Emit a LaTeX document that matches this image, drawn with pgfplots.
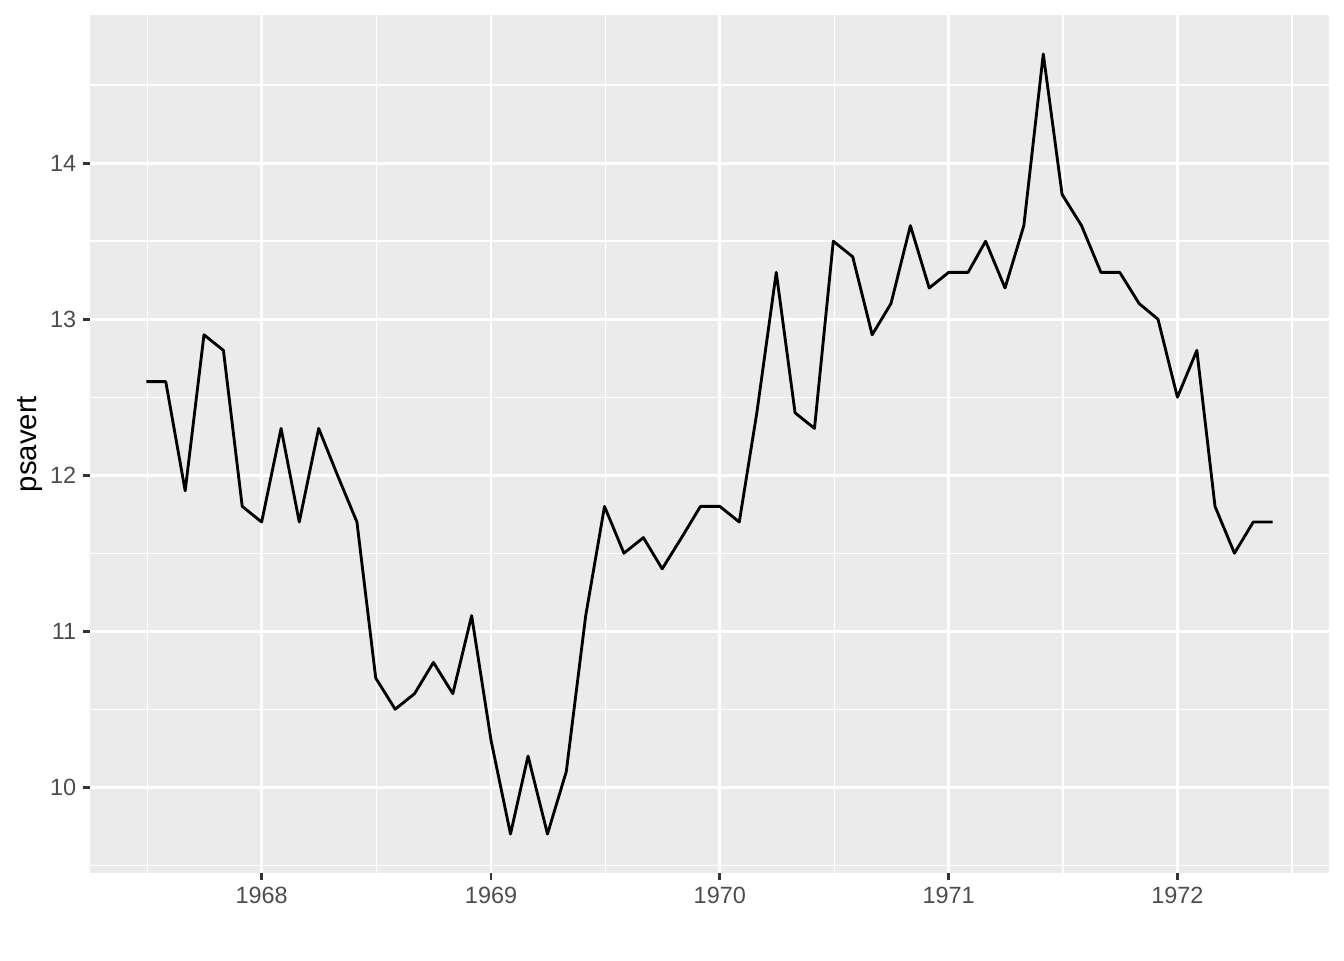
\documentclass[border=0pt]{standalone}
\usepackage{fontspec}
\setmainfont{Liberation Sans}
\usepackage{pgfplots}
\pgfplotsset{compat=1.18}
\definecolor{ggbg}{HTML}{EBEBEB}
\definecolor{ggtick}{HTML}{333333}
\definecolor{ggtext}{HTML}{4D4D4D}

% x = days since 1970-01-01 (first of each month)
\pgfplotstableread{
x psavert
-915 12.6
-884 12.6
-853 11.9
-823 12.9
-792 12.8
-762 11.8
-731 11.7
-700 12.3
-671 11.7
-640 12.3
-610 12.0
-579 11.7
-549 10.7
-518 10.5
-487 10.6
-457 10.8
-426 10.6
-396 11.1
-365 10.3
-334 9.7
-306 10.2
-275 9.7
-245 10.1
-214 11.1
-184 11.8
-153 11.5
-122 11.6
-92 11.4
-61 11.6
-31 11.8
0 11.8
31 11.7
59 12.4
90 13.3
120 12.4
151 12.3
181 13.5
212 13.4
243 12.9
273 13.1
304 13.6
334 13.2
365 13.3
396 13.3
424 13.5
455 13.2
485 13.6
516 14.7
546 13.8
577 13.6
608 13.3
638 13.3
669 13.1
699 13.0
730 12.5
761 12.8
790 11.8
821 11.5
851 11.7
882 11.7
}\psavert

\begin{document}
\begin{tikzpicture}
\begin{axis}[name=ax,
  scale only axis, width=464.6pt, height=321.75pt,
  xmin=-1004.85, xmax=971.85, ymin=9.45, ymax=14.95,
  axis background/.style={fill=ggbg},
  axis lines*=left, axis line style={draw=none},
  xtick={-731,-365,0,365,730}, xticklabels={1968,1969,1970,1971,1972},
  ytick={10,11,12,13,14},
  minor xtick={-913.5,-548,-182.5,182.5,547.5,913},
  minor ytick={9.5,10.5,11.5,12.5,13.5,14.5},
  grid=both,
  major grid style={white, line width=1.07pt},
  minor grid style={white, line width=0.53pt},
  tick align=outside, major tick length=2.75pt, minor tick length=0pt,
  tick style={ggtick, line width=1.07pt},
  /pgf/number format/assume math mode=true,
  /pgf/number format/1000 sep={},
  /pgf/number format/fixed,
  tick label style={font=\fontsize{8.8}{10}\selectfont, text=ggtext},
  xticklabel style={inner sep=0pt, yshift=-2.2pt, anchor=north},
  yticklabel style={inner sep=0pt, xshift=-2.2pt, anchor=east},
  ylabel={psavert},
  every axis y label/.style={at={(ticklabel cs:0.5)}, rotate=90, anchor=south, yshift=2.75pt, font=\fontsize{11}{13}\selectfont, inner sep=0pt},
]
\addplot[black, line width=1.07pt, line join=round, line cap=butt, mark=none] table[x=x, y=psavert] {\psavert};
\end{axis}
\pgfresetboundingbox
\useasboundingbox ([shift={(-33.75pt,-32.625pt)}]ax.south west) rectangle ([shift={(5.625pt,5.625pt)}]ax.north east);
\end{tikzpicture}
\end{document}
